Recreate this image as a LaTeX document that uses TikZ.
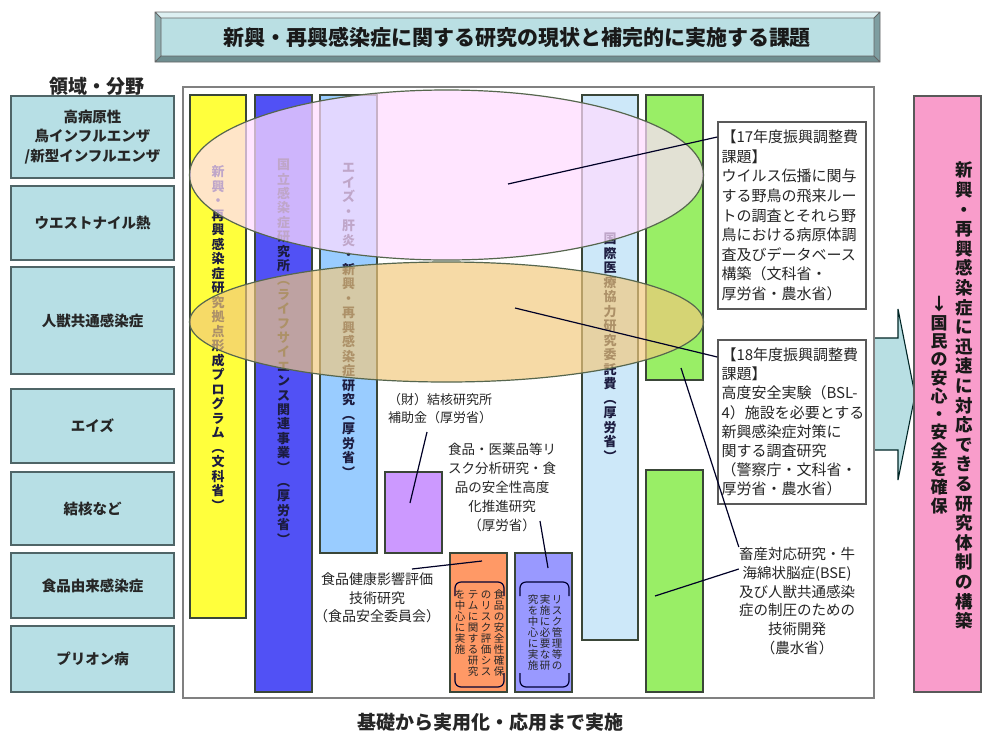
\documentclass[tikz,border=0pt]{standalone}
\usepackage{fontspec}
\setmainfont{Noto Sans CJK JP}
\definecolor{lboxfill}{HTML}{B7DFE5}
\definecolor{lboxline}{HTML}{4F6567}
\definecolor{titlefill}{HTML}{BADFE3}
\definecolor{titlelight}{HTML}{DDF0F2}
\definecolor{titledark}{HTML}{6F8E90}
\definecolor{barline}{HTML}{3A4638}
\definecolor{cyellow}{HTML}{FFFF3C}
\definecolor{cblue}{HTML}{5151F5}
\definecolor{cltblue}{HTML}{99CCFF}
\definecolor{cpale}{HTML}{CDE8F9}
\definecolor{cgreen}{HTML}{99EE66}
\definecolor{cpurple}{HTML}{CC99FF}
\definecolor{corange}{HTML}{FF9966}
\definecolor{cviolet}{HTML}{9999FF}
\definecolor{cpink}{HTML}{F99DCB}
\definecolor{arrowfill}{HTML}{B8DFE3}
\definecolor{ellone}{HTML}{FFDCFF}
\definecolor{elltwo}{HTML}{F2C97C}
\definecolor{ellline}{HTML}{56664E}
\definecolor{vtxt}{HTML}{1C1C40}
\makeatletter
\newcommand\vtext[2]{\vbox{\offinterlineskip\def\vt@p{#1}\vt@loop#2\@nil}}
\def\vt@loop#1{\ifx\@nil#1\else\hbox to 1em{\hss\vrule height .8\dimexpr\vt@p\relax depth .2\dimexpr\vt@p\relax width 0pt\relax #1\hss}\expandafter\vt@loop\fi}
\makeatother
\begin{document}
\begin{tikzpicture}[x=1pt,y=-1pt,
  lbox/.style={draw=lboxline, line width=1.6pt, fill=lboxfill, minimum width=163pt, minimum height=#1, inner sep=0pt,
    font=\fontsize{14.5}{19.5}\selectfont\bfseries, text=black!85, align=center},
  barshape/.style={draw=barline, line width=1.3pt},
  vlab/.style={inner sep=0pt, anchor=north, text=vtxt, font=\fontsize{13}{14}\selectfont\bfseries},
  vsmall/.style={inner sep=0pt, anchor=north, text=black!85, font=\fontsize{10.5}{11}\selectfont},
  tbox/.style={draw=black!65, line width=1.5pt, fill=white, text width=141pt, minimum width=148pt, inner xsep=3.5pt,
    align=left, font=\fontsize{15}{19.6}\selectfont, text=black!85},
  plab/.style={align=center, inner sep=0pt, text=black!85},
  conn/.style={draw=black!85!blue, line width=1.2pt},
  bracketline/.style={draw=black!80!blue, line width=1.2pt, rounded corners=6pt}
]
\fill[white] (0,0) rectangle (983,740);
\useasboundingbox (0,0) rectangle (983,740);

% ---------- title (bevel) ----------
\fill[titlefill] (155,12) rectangle (880,62);
\fill[titlelight] (155,12) -- (880,12) -- (874,18) -- (161,18) -- cycle;
\fill[titledark!60!titlefill] (155,12) -- (161,18) -- (161,56) -- (155,62) -- cycle;
\fill[titledark] (155,62) -- (161,56) -- (874,56) -- (880,62) -- cycle;
\fill[titledark!80!titlefill] (880,12) -- (880,62) -- (874,56) -- (874,18) -- cycle;
\draw[black!60, line width=0.9pt] (155,12) rectangle (880,62) (161,18) rectangle (874,56)
  (155,12) -- (161,18) (880,12) -- (874,18) (155,62) -- (161,56) (880,62) -- (874,56);
\node[font=\fontsize{21}{24}\selectfont\bfseries, text=black!90] (title) at (517,37) {新興・再興感染症に関する研究の現状と補完的に実施する課題};

% ---------- left column ----------
\node[font=\fontsize{19}{22}\selectfont\bfseries, text=black!85] (cat) at (97,86) {領域・分野};
\node[lbox=82pt] (a1) at (92.5,137) {高病原性\\鳥インフルエンザ\\/新型インフルエンザ};
\node[lbox=74pt] (a2) at (92.5,223) {ウエストナイル熱};
\node[lbox=107pt] (a3) at (92.5,320.5) {人獣共通感染症};
\node[lbox=74pt] (a4) at (92.5,426) {エイズ};
\node[lbox=73pt] (a5) at (92.5,508.5) {結核など};
\node[lbox=65pt] (a6) at (92.5,585.5) {食品由来感染症};
\node[lbox=66pt] (a7) at (92.5,659) {プリオン病};

% ---------- big arrow ----------
\fill[arrowfill] (868,338) -- (898,338) -- (898,309) -- (915,395) -- (898,480) -- (898,450) -- (868,450) -- cycle;
\draw[black!70!teal, line width=1.1pt] (874,338) -- (898,338) -- (898,309) -- (915,395) -- (898,480) -- (898,450) -- (874,450);

% ---------- frame ----------
\draw[black!50, line width=2pt, fill=white] (183,87) rectangle (874,698);

% ---------- bars ----------
\draw[barshape, fill=cyellow] (190,95) rectangle (246,618);
\draw[barshape, fill=cblue] (255,95) rectangle (312,692);
\draw[barshape, fill=cltblue] (320,95) rectangle (377,553);
\draw[barshape, fill=cpurple] (385,472) rectangle (442,553);
\draw[barshape, fill=corange] (450,553) rectangle (507,692);
\draw[barshape, fill=cviolet] (515,553) rectangle (572,692);
\draw[barshape, fill=cpale] (582,95) rectangle (638,640);
\draw[barshape, fill=cgreen] (646,95) rectangle (703,380);
\draw[barshape, fill=cgreen] (646,470) rectangle (703,692);

% vertical texts in bars
\node[vlab] (v1) at (218,165) {\vtext{14.5pt}{新興・再興感染症研究拠点形成プログラム︵文科省︶}};
\node[vlab] (v2) at (283.5,158) {\vtext{14.4pt}{国立感染症研究所︵ライフサイエンス関連事業︶︵厚労省︶}};
\node[vlab] (v3) at (348.5,161) {\vtext{14.5pt}{エイズ・肝炎・新興・再興感染症研究︵厚労省︶}};
\node[vlab] (v4) at (610,232) {\vtext{14.5pt}{国際医療協力研究委託費︵厚労省︶}};

% brackets + small vertical texts
\draw[bracketline] (455,596) -- (455,582) -- (504,582) -- (504,596);
\draw[bracketline] (455,673) -- (455,687) -- (504,687) -- (504,673);
\draw[bracketline] (520,596) -- (520,582) -- (569,582) -- (569,596);
\draw[bracketline] (520,673) -- (520,687) -- (569,687) -- (569,673);
\node[vsmall] (o1) at (499,589) {\vtext{11pt}{食品の安全性確保}};
\node[vsmall] (o2) at (486,589) {\vtext{11pt}{のリスク評価シス}};
\node[vsmall] (o3) at (473,589) {\vtext{11pt}{テムに関する研究}};
\node[vsmall] (o4) at (460,589) {\vtext{11pt}{を中心に実施}};
\node[vsmall] (p1) at (557,594) {\vtext{11pt}{リスク管理等の}};
\node[vsmall] (p2) at (545,594) {\vtext{11pt}{実施に必要な研}};
\node[vsmall] (p3) at (533,594) {\vtext{11pt}{究を中心に実施}};

% ---------- ellipses ----------
\draw[draw=ellline, line width=1.2pt, fill=ellone, fill opacity=0.72] (446.5,175) ellipse [x radius=257, y radius=85];
\draw[draw=ellline, line width=1.2pt, fill=elltwo, fill opacity=0.68] (446.5,322) ellipse [x radius=257, y radius=60];

% ---------- text boxes ----------
\node[tbox, minimum height=187pt] (b17) at (792,215.5) {【17年度振興調整費\\課題】\\ウイルス伝播に関与\\する野鳥の飛来ルー\\トの調査とそれら野\\鳥における病原体調\\査及びデータベース\\構築（文科省・\\厚労省・農水省）};
\node[tbox, minimum height=164pt, font=\fontsize{15}{19.2}\selectfont] (b18) at (792,422) {【18年度振興調整費\\課題】\\高度安全実験（BSL-\\4）施設を必要とする\\新興感染症対策に\\関する調査研究\\（警察庁・文科省・\\厚労省・農水省）};

\node[plab, font=\fontsize{14.5}{18.8}\selectfont] (bse) at (797,601) {畜産対応研究・牛\\海綿状脳症(BSE)\\及び人獣共通感染\\症の制圧のための\\技術開発\\（農水省）};
\node[plab, font=\fontsize{13}{18}\selectfont] (kek) at (440,409) {（財）結核研究所\\補助金（厚労省）};
\node[plab, font=\fontsize{13.5}{19}\selectfont] (iya) at (502,487) {食品・医薬品等リ\\スク分析研究・食\\品の安全性高度\\化推進研究\\（厚労省）};
\node[plab, font=\fontsize{14}{18.5}\selectfont] (sho) at (377,598) {食品健康影響評価\\技術研究\\（食品安全委員会）};

% ---------- connectors ----------
\coordinate (l1a) at (508,184);
\coordinate (l2a) at (515,308);
\coordinate (l3a) at (681,368);
\coordinate (l4a) at (655,596);
\coordinate (l5a) at (427,432);
\coordinate (l5b) at (410,503);
\coordinate (l6a) at (540,521);
\coordinate (l6b) at (548,568);
\coordinate (l7a) at (412,569);
\coordinate (l7b) at (482,561);
\draw[conn] (l1a) -- (b17.west |- 0,137);
\draw[conn] (l2a) -- (b18.west |- 0,357);
\draw[conn] (l3a) -- (bse.north west);
\draw[conn] (l4a) -- (bse.west |- 0,569);
\draw[conn] (l5a) -- (l5b);
\draw[conn] (l6a) -- (l6b);
\draw[conn] (l7a) -- (l7b);

% ---------- goal box ----------
\node[draw=black!65, fill=cpink, line width=1.3pt, minimum width=67pt, minimum height=596pt, inner sep=0pt] (goal) at (947.5,394) {};
\node[inner sep=0pt, anchor=north, text=black!90, font=\fontsize{17.5}{19}\selectfont\bfseries] (g1) at (964,161) {\vtext{19.6pt}{新興・再興感染症に迅速に対応できる研究体制の構築}};
\node[inner sep=0pt, anchor=north, text=black!90, font=\fontsize{17}{19}\selectfont\bfseries] (g2) at (939,296) {\vtext{18.3pt}{↓国民の安心・安全を確保}};

% ---------- bottom ----------
\node[font=\fontsize{19}{22}\selectfont\bfseries, text=black!85] (base) at (490,722) {基礎から実用化・応用まで実施};
\end{tikzpicture}
\end{document}
